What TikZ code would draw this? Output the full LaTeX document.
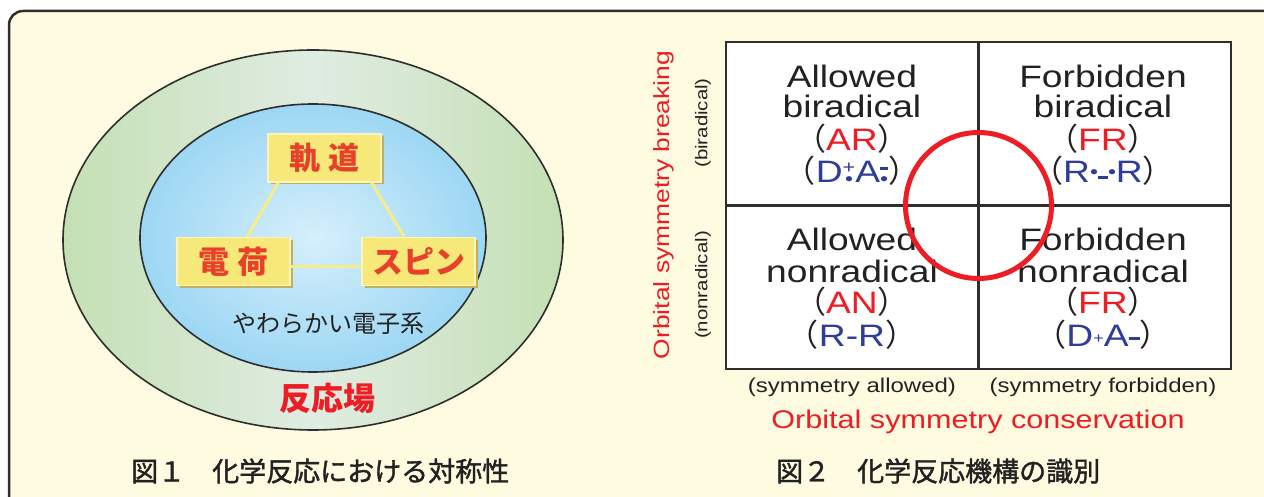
\documentclass[tikz,border=0pt]{standalone}
\usepackage{fontspec}
\usetikzlibrary{shadows,calc}
\setmainfont{Liberation Sans}
\newfontfamily\cjk{Noto Sans CJK JP}
\newfontfamily\cjkcap[FakeBold=1.5]{Noto Sans CJK JP}
\newfontfamily\lat[FakeStretch=1.2]{Liberation Sans}
\definecolor{cream}{HTML}{FFFBE0}
\definecolor{frame}{HTML}{2E2E2E}
\definecolor{boxfill}{HTML}{F6E97A}
\definecolor{boxshadow}{HTML}{C2AF5A}
\definecolor{boxlight}{HTML}{FBF4BE}
\definecolor{boxtext}{HTML}{E8402A}
\definecolor{tri}{HTML}{F7EC88}
\definecolor{rred}{HTML}{EE1C24}
\definecolor{bblue}{HTML}{2E3D98}
\definecolor{dark}{HTML}{222222}
\definecolor{greenL}{HTML}{C4E0B4}
\definecolor{greenM}{HTML}{E0ECE2}
\definecolor{blueIn}{HTML}{D6EFFB}
\definecolor{blueOut}{HTML}{9DD7F4}
\newcommand\radtop[1]{\ooalign{\hfil\raisebox{9pt}{#1}\hfil\cr\hfil\raisebox{-3pt}{\fontsize{19}{19}\selectfont\textbullet}\hfil}}
\newcommand\smplus{{\fontsize{18}{18}\selectfont +}}
\newcommand\smminus{\raisebox{4pt}{\rule{8pt}{2.6pt}}}
\begin{document}
\begin{tikzpicture}[x=1pt,y=-1pt,
  kbox/.style={draw=boxlight,line width=1.5pt,fill=boxfill,minimum width=113pt,minimum height=48pt,inner sep=0pt,
    text=boxtext,font=\cjk\bfseries\fontsize{31}{31}\selectfont,
    general shadow={shadow xshift=2.5pt,shadow yshift=-2.5pt,fill=boxshadow}},
  tri/.style={draw=tri,line width=3pt},
  celltxt/.style={anchor=base,inner sep=0pt,text=dark,font=\lat\fontsize{31}{31}\selectfont},
  axis/.style={inner sep=0pt,text=dark,font=\lat\fontsize{20}{20}\selectfont},
  axisred/.style={inner sep=0pt,text=rred,font=\lat\fontsize{25.5}{25.5}\selectfont},
  caption/.style={anchor=west,inner sep=0pt,text=dark,font=\cjkcap\fontsize{27}{27}\selectfont}]
\useasboundingbox (0,0) rectangle (1264,497);
\begin{scope}
\clip (0,0) rectangle (1264,497);
\draw[line width=2.5pt,draw=frame,fill=cream,rounded corners=14pt] (9,11) rectangle (1300,540);
\end{scope}
% Figure 1
\draw[line width=1.6pt,draw=frame,left color=greenL,right color=greenL,middle color=greenM] (313,240) ellipse [x radius=250,y radius=190];
\draw[line width=1.6pt,draw=frame,inner color=blueIn,outer color=blueOut] (313,238) ellipse [x radius=173,y radius=134];
\node[kbox] (kido) at (324.5,158) {軌\hspace{8pt}道};
\node[kbox] (denka) at (233.5,261.5) {電\hspace{8pt}荷};
\node[kbox] (spin) at (418.5,261.5) {スピン};
\draw[tri] ([xshift=11pt]kido.south west) -- ([xshift=71pt]denka.north west);
\draw[tri] ([xshift=-10pt]kido.south east) -- ([xshift=43pt]spin.north west);
\draw[tri] ([yshift=-5pt]denka.east) -- ([yshift=-5pt]spin.west);
\node[inner sep=0pt,text=dark,font=\cjk\fontsize{24}{24}\selectfont] (yawa) at (328,324) {やわらかい電子系};
\node[inner sep=0pt,text=rred,font=\cjk\bfseries\fontsize{32}{32}\selectfont] (field) at (327,398) {反応場};
\node[caption] (cap1) at (131,471) {図１　化学反応における対称性};
% Figure 2
\node[draw=frame,fill=white,line width=2.5pt,minimum width=505pt,minimum height=327pt,inner sep=0pt,outer sep=0pt] (grid) at (978.5,205.5) {};
\draw[line width=2.5pt,draw=frame] (grid.north) -- (grid.south);
\draw[line width=2.5pt,draw=frame] (grid.west) -- (grid.east);
% top-left
\node[celltxt] (c1a) at (852,88) {Allowed};
\node[celltxt] (c1b) at (852,118) {biradical};
\node[celltxt] (c1c) at (852,151) {{\cjk （}\textcolor{rred}{AR}{\cjk ）}};
\node[celltxt] (c1d) at (852,183) {{\cjk （}\textcolor{bblue}{D\radtop{\smplus}A\radtop{\smminus}}{\cjk ）}};
% top-right
\node[celltxt] (c2a) at (1103,88) {Forbidden};
\node[celltxt] (c2b) at (1103,118) {biradical};
\node[celltxt] (c2c) at (1103,151) {{\cjk （}\textcolor{rred}{FR}{\cjk ）}};
\node[celltxt] (c2d) at (1103,183) {{\cjk （}\textcolor{bblue}{R\raisebox{4pt}{\fontsize{19}{19}\selectfont\textbullet}\raisebox{4pt}{\rule{10pt}{2.6pt}}\raisebox{4pt}{\fontsize{19}{19}\selectfont\textbullet}R}{\cjk ）}};
% bottom-left
\node[celltxt] (c3a) at (852,251) {Allowed};
\node[celltxt] (c3b) at (852,282) {nonradical};
\node[celltxt] (c3c) at (852,313) {{\cjk （}\textcolor{rred}{AN}{\cjk ）}};
\node[celltxt] (c3d) at (852,346) {{\cjk （}\textcolor{bblue}{R-R}{\cjk ）}};
% bottom-right
\node[celltxt] (c4a) at (1103,251) {Forbidden};
\node[celltxt] (c4b) at (1103,282) {nonradical};
\node[celltxt] (c4c) at (1103,313) {{\cjk （}\textcolor{rred}{FR}{\cjk ）}};
\node[celltxt] (c4d) at (1103,346) {{\cjk （}\textcolor{bblue}{D\raisebox{3pt}{\fontsize{15}{15}\selectfont +}A\raisebox{6pt}{\rule{11pt}{3pt}}}{\cjk ）}};
\node[draw=rred,line width=5pt,circle,minimum size=146pt,inner sep=0pt] (ring) at (grid.center) {};
% axes
\node[axis] (xa) at (852,387) {(symmetry allowed)};
\node[axis] (xf) at (1103,387) {(symmetry forbidden)};
\node[axisred] (xt) at (978,422) {Orbital symmetry conservation};
\node[axisred,rotate=90,font=\lat\fontsize{22}{22}\selectfont] (yt) at (664,205) {Orbital symmetry breaking};
\node[axis,rotate=90,font=\lat\fontsize{17}{17}\selectfont] (yb) at (703,123) {(biradical)};
\node[axis,rotate=90,font=\lat\fontsize{17}{17}\selectfont] (yn) at (703,285) {(nonradical)};
\node[caption] (cap2) at (776,471) {図２　化学反応機構の識別};
\end{tikzpicture}
\end{document}
